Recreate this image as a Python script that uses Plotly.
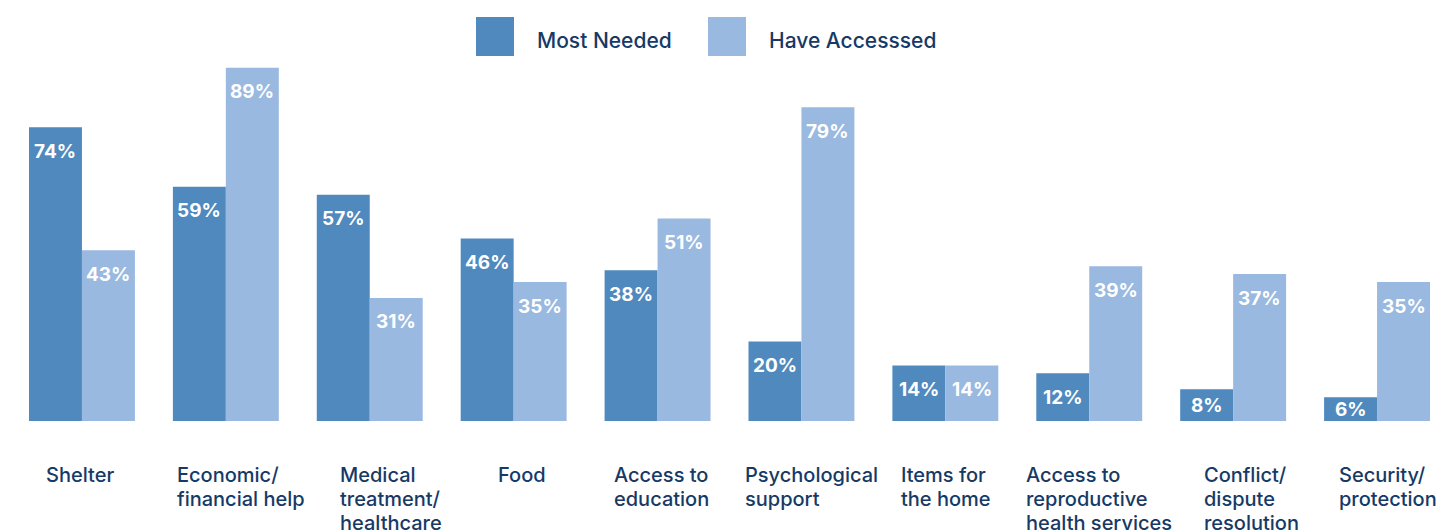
import plotly.graph_objects as go

# Survey results: share of respondents per need
categories = [
    "Shelter",
    "Economic/<br>financial help",
    "Medical<br>treatment/<br>healthcare",
    "Food",
    "Access to<br>education",
    "Psychological<br>support",
    "Items for<br>the home",
    "Access to<br>reproductive<br>health services",
    "Conflict/<br>dispute<br>resolution",
    "Security/<br>protection",
]
most_needed = [74, 59, 57, 46, 38, 20, 14, 12, 8, 6]
have_accessed = [43, 89, 31, 35, 51, 79, 14, 39, 37, 35]
series_names = ["Most Needed", "Have Accesssed"]

# Styling
COLORS = ["#4f89bd", "#99b9e0"]
NAVY = "#163a65"
FONT = "Inter"
W, H = 1449, 532
M_L, M_R, M_T, M_B = 10, 0, 24, 111
Y_MAX = 100
LINE_STEP = 24  # caption line spacing in px
# horizontal nudge (px) for each category caption's left edge, relative to its group's left edge
label_nudge = [15, 2, 21, 35, 7, -5, 7, -12, 22, 13]

x_idx = list(range(len(categories)))

fig = go.Figure()
for name, vals, col in zip(series_names, [most_needed, have_accessed], COLORS):
    fig.add_trace(go.Bar(
        x=x_idx, y=vals, name=name,
        marker=dict(color=col, line=dict(width=0)),
        showlegend=False,
        hoverinfo="skip",
    ))

plot_h = H - M_T - M_B
px_per_unit = plot_h / Y_MAX
plot_w = W - M_L - M_R
bargap = 0.264

annotations = []
# value labels near the top of each bar
for s, vals in enumerate([most_needed, have_accessed]):
    offset = (-0.5 + s) * (1 - bargap) / 2
    for i, v in enumerate(vals):
        h_px = v * px_per_unit
        annotations.append(dict(
            x=i + offset, y=v, xref="x", yref="y",
            text=f"{v}%", showarrow=False,
            xanchor="center", yanchor="middle",
            yshift=-min(24, h_px / 2),
            font=dict(family=FONT, size=19, color="white", weight=700),
        ))

# category captions below the axis, left aligned, one annotation per line
for i, (cat, nudge) in enumerate(zip(categories, label_nudge)):
    for k, line in enumerate(cat.split("<br>")):
        annotations.append(dict(
            x=i - (1 - bargap) / 2, y=0, xref="x", yref="y",
            text=line, showarrow=False, align="left",
            xanchor="left", yanchor="middle",
            xshift=nudge, yshift=-(54 + LINE_STEP * k),
            font=dict(family=FONT, size=20, color=NAVY, weight=500),
        ))

# hand-drawn legend with large swatches
shapes = []
legend_items = [(476, 535), (708, 767)]
for (sx, tx), name, col in zip(legend_items, series_names, COLORS):
    shapes.append(dict(
        type="rect", xref="paper", yref="paper",
        x0=(sx - M_L) / plot_w, x1=(sx + 38 - M_L) / plot_w,
        y0=1 + (M_T - 17) / plot_h, y1=1 + (M_T - 56) / plot_h,
        fillcolor=col, line=dict(width=0), layer="above",
    ))
    annotations.append(dict(
        x=(tx - M_L) / plot_w, y=1 + (M_T - 40) / plot_h,
        xref="paper", yref="paper", text=name, showarrow=False,
        xanchor="left", yanchor="middle",
        font=dict(family=FONT, size=21, color=NAVY, weight=500),
    ))

fig.update_layout(
    width=W, height=H,
    margin=dict(l=M_L, r=M_R, t=M_T, b=M_B, pad=0),
    barmode="group", bargap=bargap, bargroupgap=0,
    plot_bgcolor="white", paper_bgcolor="white",
    xaxis=dict(range=[-0.5, len(categories) - 0.5], showticklabels=False,
               showgrid=False, zeroline=False, showline=False, ticks=""),
    yaxis=dict(range=[0, Y_MAX], showticklabels=False, showgrid=False,
               zeroline=False, showline=False, ticks=""),
    annotations=annotations, shapes=shapes,
)

fig.write_html("out.html")
